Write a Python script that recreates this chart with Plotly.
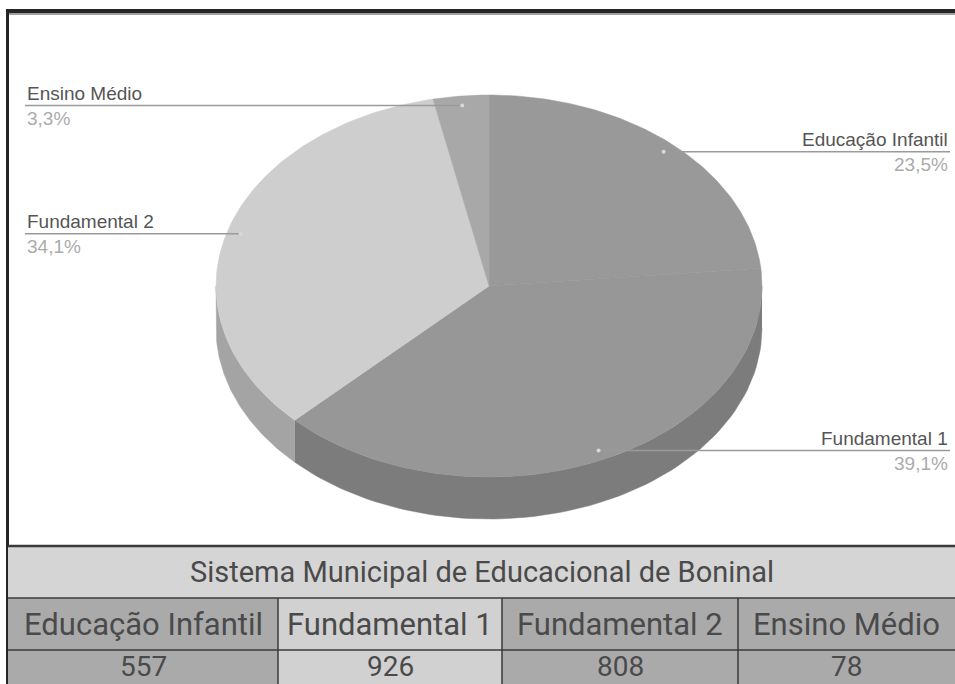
import numpy as np
import plotly.graph_objects as go

# ---------------- data ----------------
categories = ["Educação Infantil", "Fundamental 1", "Fundamental 2", "Ensino Médio"]
values = [557, 926, 808, 78]
table_title = "Sistema Municipal de Educacional de Boninal"

# ---------------- styles ----------------
top_colors = ["#999999", "#979797", "#cecece", "#a8a8a8"]
side_colors = ["#7c7c7c", "#7c7c7c", "#a4a4a4", "#8a8a8a"]
cell_colors = ["#aaaaaa", "#d1d1d1", "#aaaaaa", "#aaaaaa"]
title_fill = "#d5d5d5"

W, H = 955, 684
CX, CY, RX, RY, DEPTH = 489, 286, 273, 191, 42
LABEL_LEFT, LABEL_RIGHT = 25, 950
col_edges = [8, 278, 502, 738, 955]
row_edges = [546, 598, 650, 700]

total = sum(values)
fracs = [v / total for v in values]
starts = np.concatenate([[0], np.cumsum(fracs)[:-1]]) * 360
ends = starts + np.array(fracs) * 360


def pt(theta, r=1.0, dy=0.0):
    t = np.radians(theta)
    return CX + r * RX * np.sin(t), CY - r * RY * np.cos(t) + dy


def pct_text(f):
    return f"{f*100:.1f}%".replace(".", ",")


fig = go.Figure()

# sides (front half only)
for i, (s, e) in enumerate(zip(starts, ends)):
    a, b = max(s, 90), min(e, 270)
    if a < b:
        th = np.linspace(a, b, 80)
        xt, yt = pt(th)
        xb, yb = pt(th[::-1], dy=DEPTH)
        fig.add_trace(go.Scatter(
            x=np.concatenate([xt, xb]), y=np.concatenate([yt, yb]),
            fill="toself", fillcolor=side_colors[i], mode="lines",
            line=dict(color=side_colors[i], width=0.5), hoverinfo="skip",
            showlegend=False))

# top faces
for i, (s, e) in enumerate(zip(starts, ends)):
    th = np.linspace(s, e, 120)
    xa, ya = pt(th)
    fig.add_trace(go.Scatter(
        x=np.concatenate([[CX], xa, [CX]]), y=np.concatenate([[CY], ya, [CY]]),
        fill="toself", fillcolor=top_colors[i], mode="lines",
        line=dict(color=top_colors[i], width=0.5), hoverinfo="skip",
        name=categories[i], showlegend=False))

# leader lines, dots and labels
annotations = []
for i, (s, e) in enumerate(zip(starts, ends)):
    mid = (s + e) / 2
    dx, dy = pt(mid, 0.95)
    right = mid < 180
    xe = LABEL_RIGHT if right else LABEL_LEFT
    fig.add_trace(go.Scatter(x=[dx, xe], y=[dy, dy], mode="lines",
                             line=dict(color="#9a9a9a", width=1.5),
                             hoverinfo="skip", showlegend=False))
    fig.add_trace(go.Scatter(x=[dx], y=[dy], mode="markers",
                             marker=dict(color="#d8d8d8", size=4),
                             hoverinfo="skip", showlegend=False))
    anchor = "right" if right else "left"
    annotations.append(dict(x=xe, y=dy - 12, text=categories[i], showarrow=False,
                            xanchor=anchor, yanchor="middle",
                            font=dict(family="Liberation Sans, Arial", size=19, color="#555555")))
    annotations.append(dict(x=xe, y=dy + 13, text=pct_text(fracs[i]), showarrow=False,
                            xanchor=anchor, yanchor="middle",
                            font=dict(family="Liberation Sans, Arial", size=19, color="#ababab")))

shapes = []
# frame
shapes.append(dict(type="rect", x0=6, x1=W + 5, y0=9, y1=13, fillcolor="#262626", line=dict(width=0), layer="above"))
shapes.append(dict(type="rect", x0=9, x1=W + 5, y0=13, y1=15, fillcolor="#a0a0a0", line=dict(width=0), layer="above"))
shapes.append(dict(type="rect", x0=6, x1=9, y0=9, y1=H + 5, fillcolor="#262626", line=dict(width=0), layer="above"))

# table
shapes.append(dict(type="rect", x0=col_edges[0], x1=col_edges[-1] + 5, y0=row_edges[0], y1=row_edges[1],
                   fillcolor=title_fill, line=dict(width=0)))
for r in (1, 2):
    for c in range(4):
        shapes.append(dict(type="rect", x0=col_edges[c], x1=col_edges[c + 1] + (5 if c == 3 else 0),
                           y0=row_edges[r], y1=row_edges[r + 1],
                           fillcolor=cell_colors[c], line=dict(width=0)))
for y in row_edges[:3]:
    shapes.append(dict(type="line", x0=col_edges[0], x1=W + 5, y0=y, y1=y,
                       line=dict(color="#3a3a3a", width=2.5 if y == row_edges[0] else 1.5)))
for x in col_edges[1:-1]:
    shapes.append(dict(type="line", x0=x, x1=x, y0=row_edges[1], y1=H + 5,
                       line=dict(color="#3a3a3a", width=1.5)))

annotations.append(dict(x=(col_edges[0] + col_edges[-1]) / 2, y=(row_edges[0] + row_edges[1]) / 2,
                        text=table_title, showarrow=False, xanchor="center", yanchor="middle",
                        font=dict(family="Roboto, Arial", size=29, color="#4a4a4a")))
for c in range(4):
    xc = (col_edges[c] + col_edges[c + 1]) / 2
    annotations.append(dict(x=xc, y=(row_edges[1] + row_edges[2]) / 2, text=categories[c],
                            showarrow=False, xanchor="center", yanchor="middle",
                            font=dict(family="Roboto, Arial", size=31, color="#4a4a4a")))
    annotations.append(dict(x=xc, y=(row_edges[2] + H) / 2 - 1, text=str(values[c]),
                            showarrow=False, xanchor="center", yanchor="middle",
                            font=dict(family="Roboto, Arial", size=28, color="#4a4a4a")))

fig.update_layout(
    width=W, height=H, margin=dict(l=0, r=0, t=0, b=0),
    paper_bgcolor="white", plot_bgcolor="white",
    xaxis=dict(range=[0, W], visible=False, fixedrange=True),
    yaxis=dict(range=[H, 0], visible=False, fixedrange=True),
    shapes=shapes, annotations=annotations, showlegend=False,
)

fig.write_html("out.html", config={"displayModeBar": False},
               post_script="document.body.style.margin='0';document.body.style.overflow='hidden';")
